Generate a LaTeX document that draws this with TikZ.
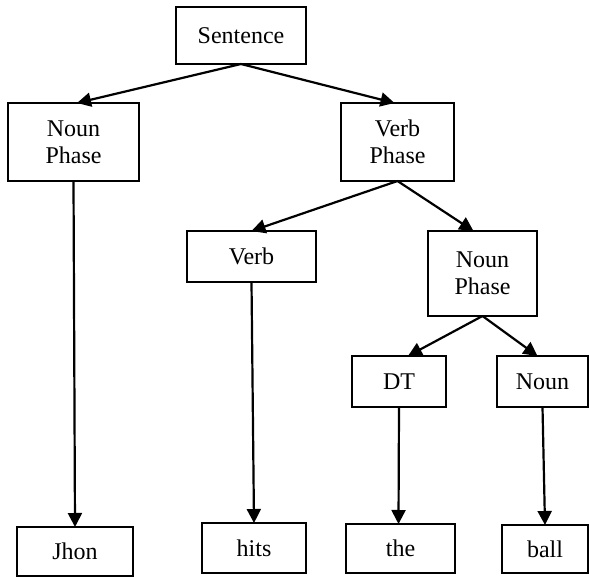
\documentclass[tikz,border=0pt]{standalone}
\usepackage{fontspec}
\setmainfont{Liberation Serif}
\usetikzlibrary{arrows.meta}
\begin{document}
\begin{tikzpicture}[x=1pt,y=-1pt,
  box/.style={draw=black,line width=2pt,inner sep=0pt,outer sep=0pt,align=center,
    font=\fontsize{24}{26.6}\selectfont},
  arr/.style={line width=2.2pt,-{Triangle[length=14pt,width=14pt]}}]
\useasboundingbox (0,0) rectangle (589,577);
\node[box,minimum width=130pt,minimum height=57pt] (s) at (241,35.5) {Sentence};
\node[box,minimum width=131pt,minimum height=78pt] (np1) at (73.5,142) {Noun\\Phase};
\node[box,minimum width=113pt,minimum height=78pt] (vp) at (397.5,142) {Verb\\Phase};
\node[box,minimum width=129pt,minimum height=51pt] (v) at (251.5,256.5) {Verb};
\node[box,minimum width=109pt,minimum height=85pt] (np2) at (482.5,273.5) {Noun\\Phase};
\node[box,minimum width=94pt,minimum height=51pt] (dt) at (399,381.5) {DT};
\node[box,minimum width=91pt,minimum height=51pt] (n) at (542.5,381.5) {Noun};
\node[box,minimum width=116pt,minimum height=49pt] (jhon) at (75,551.5) {Jhon};
\node[box,minimum width=104pt,minimum height=50pt] (hits) at (254,548) {hits};
\node[box,minimum width=109pt,minimum height=49pt] (the) at (400.5,548.5) {the};
\node[box,minimum width=86pt,minimum height=48pt] (ball) at (545,549) {ball};
\draw[arr] (s.south) -- ([xshift=3.5pt]np1.north);
\draw[arr] (s.south) -- ([xshift=-3pt]vp.north);
\draw[arr] (vp.south) -- (v.north);
\draw[arr] (vp.south) -- ([xshift=-9pt]np2.north);
\draw[arr] (np2.south) -- ([xshift=9pt]dt.north);
\draw[arr] (np2.south) -- ([xshift=-5pt]n.north);
\draw[arr] (np1.south) -- (jhon.north);
\draw[arr] (v.south) -- (hits.north);
\draw[arr] (dt.south) -- ([xshift=-2pt]the.north);
\draw[arr] (n.south) -- (ball.north);
\end{tikzpicture}
\end{document}
